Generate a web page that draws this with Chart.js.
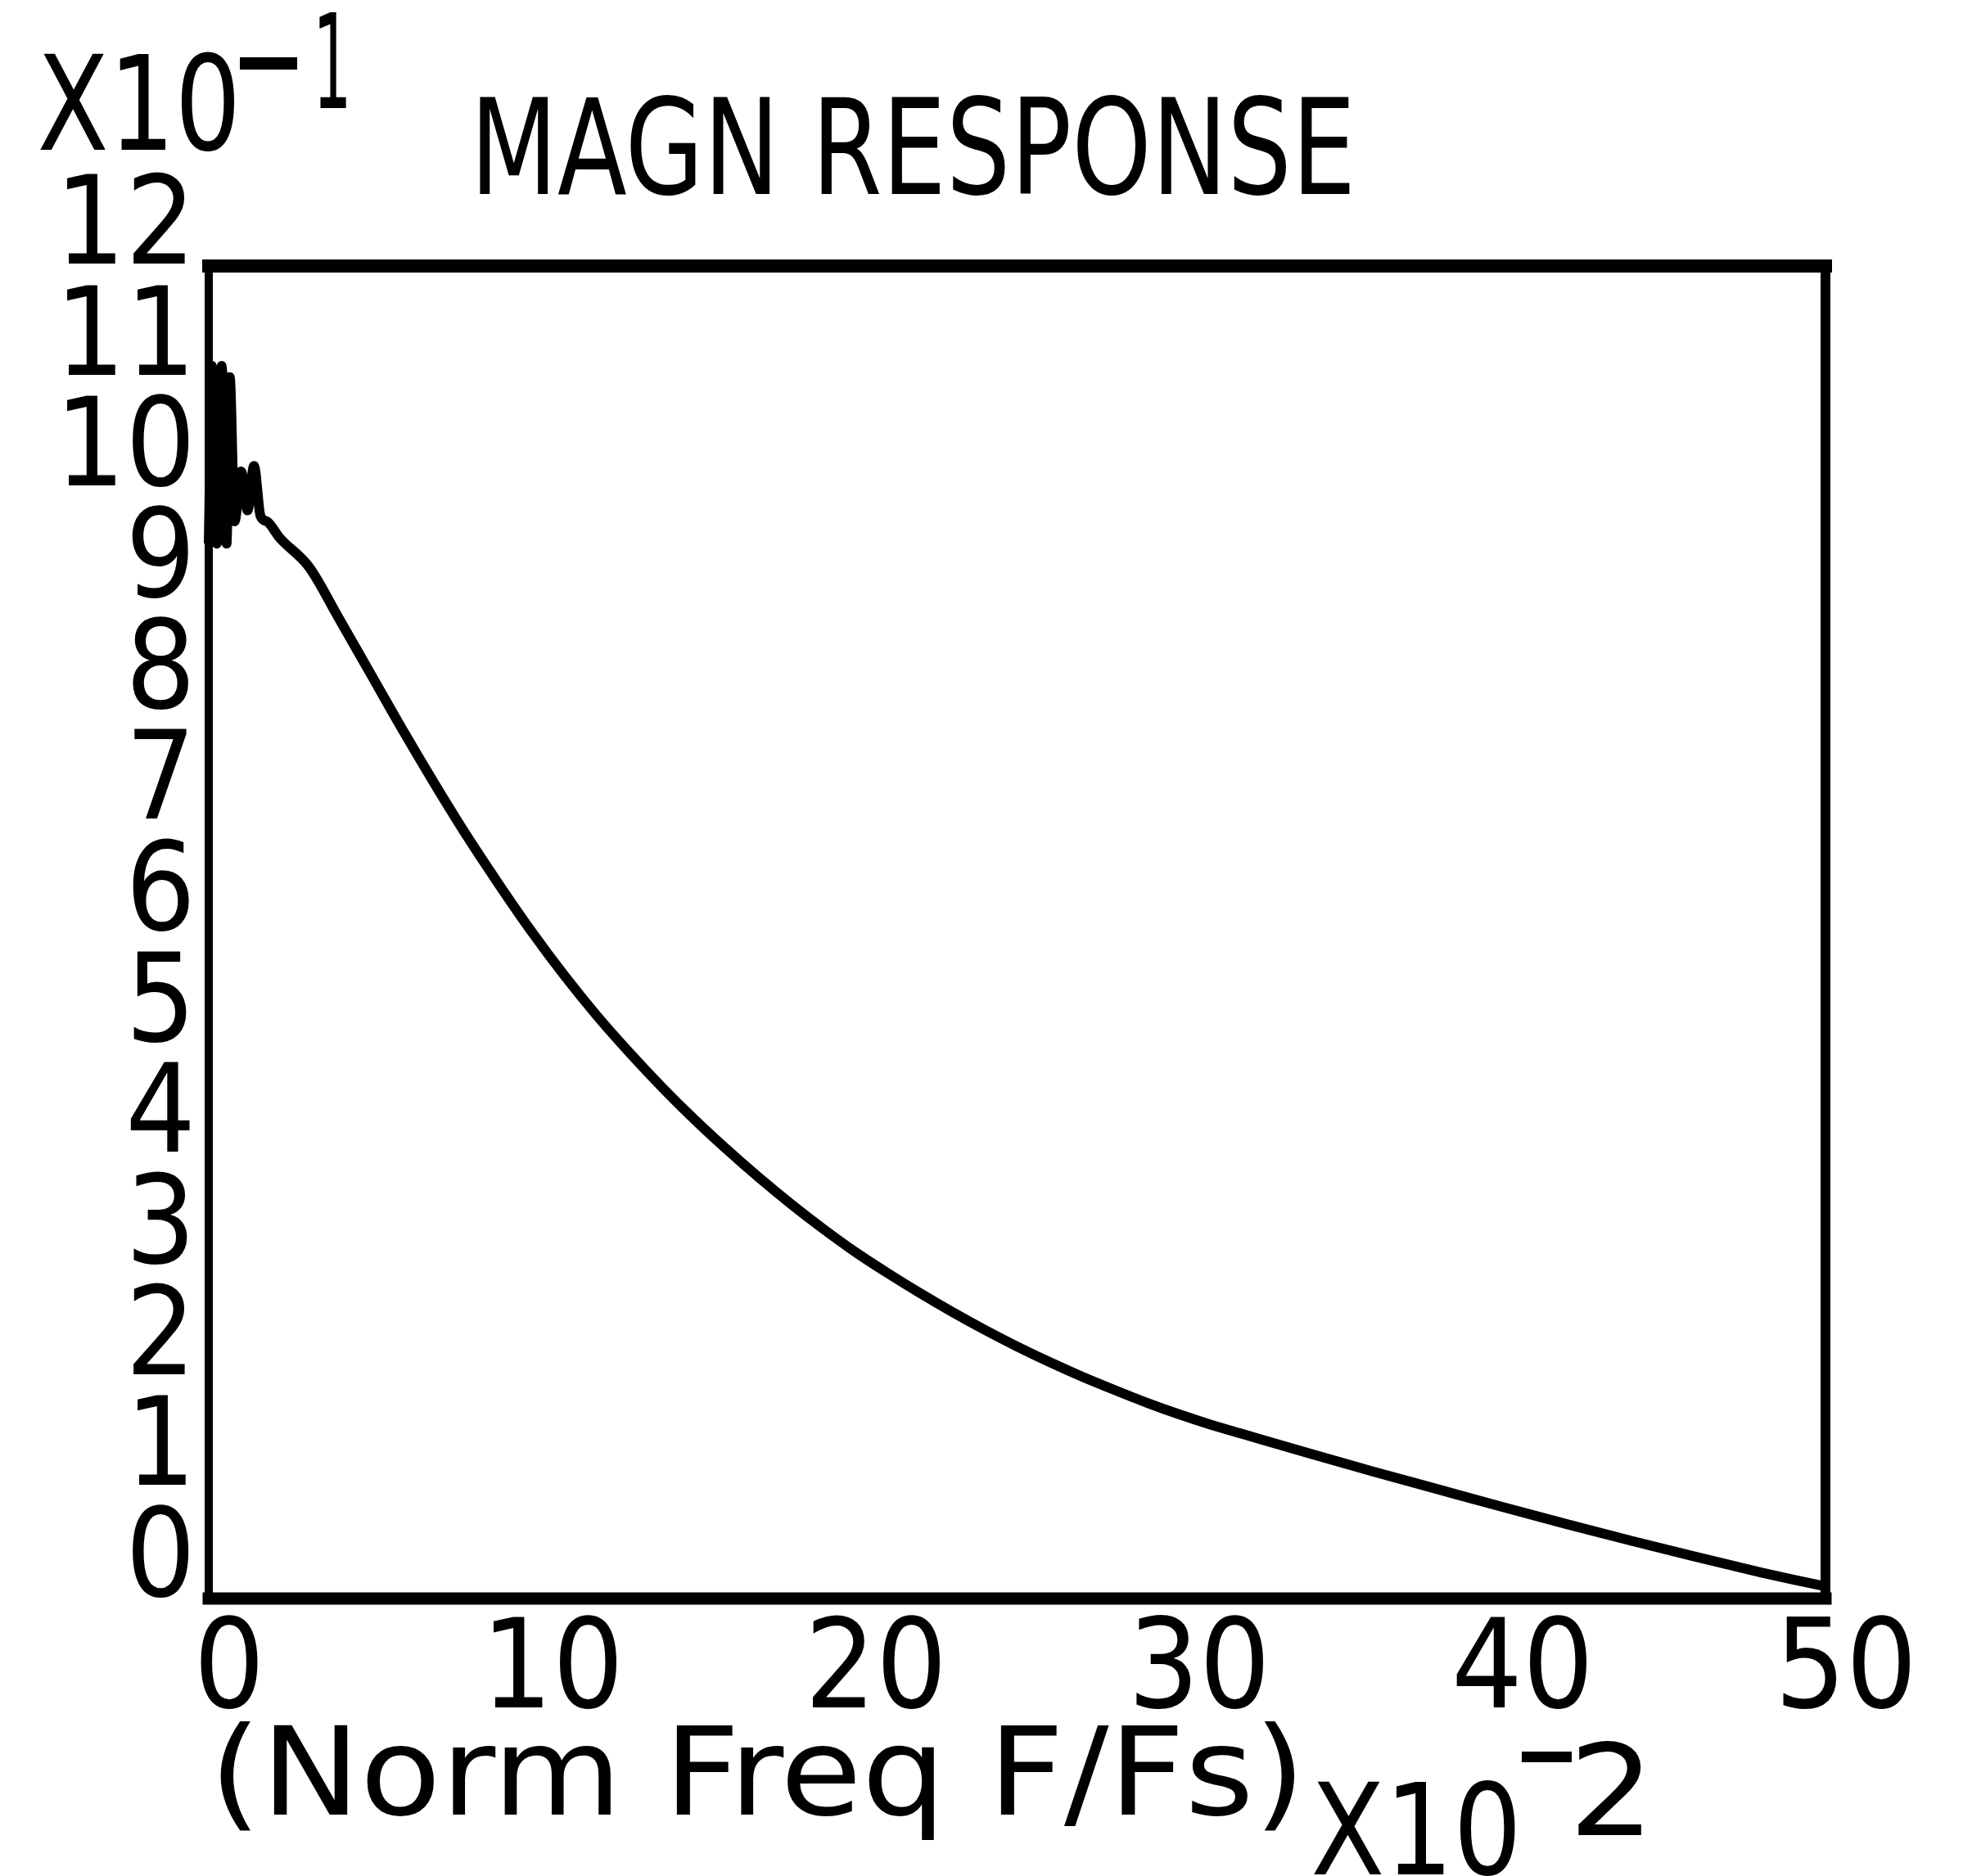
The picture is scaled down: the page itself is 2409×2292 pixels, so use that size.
<!DOCTYPE html>
<html>
<head>
<meta charset="utf-8">
<title>MAGN RESPONSE</title>
<script src="https://cdn.jsdelivr.net/npm/chart.js@4.4.1/dist/chart.umd.min.js"></script>
<style>
  html, body { margin: 0; padding: 0; background: #fff; }
  canvas { display: block; }
</style>
</head>
<body>
<canvas id="myChart" width="2409" height="2292"></canvas>
<script>
// normalized frequency f/fs, in units of x10^-2
const freqs = [0, 0.1, 0.25, 0.4, 0.55, 0.65, 0.8, 1.0, 1.2, 1.4, 1.6, 1.8, 2.2, 3.1,
  4, 5, 6, 7, 8, 9, 10, 11, 12, 13, 14, 15, 16, 17, 18, 19, 20,
  21, 22, 23, 24, 25, 26, 27, 28, 29, 30, 31, 32, 34, 36, 38, 40, 42, 44, 46, 48, 49, 50];
// magnitude, in units of x10^-1
const mags = [9.5, 11.1, 9.5, 11.1, 9.5, 11.0, 9.7, 10.15, 9.8, 10.2, 9.75, 9.7, 9.55, 9.29,
  8.84, 8.33, 7.82, 7.33, 6.86, 6.42, 6.00, 5.61, 5.25, 4.92, 4.61, 4.32, 4.05, 3.795, 3.555, 3.33, 3.12,
  2.93, 2.75, 2.58, 2.42, 2.27, 2.13, 2.00, 1.88, 1.765, 1.66, 1.565, 1.48, 1.31, 1.145, 0.985, 0.825, 0.67,
  0.52, 0.375, 0.235, 0.17, 0.11];
const xTicks = [0, 10, 20, 30, 40, 50];
const yTicks = [0, 1, 2, 3, 4, 5, 6, 7, 8, 9, 10, 11, 12];

const FONT = "'Liberation Sans Narrow', 'DejaVu Sans Condensed', 'Liberation Sans', sans-serif";

// draws text so that its ink spans exactly the given width
function fitText(ctx, text, left, baseline, width) {
  const m = ctx.measureText(text);
  const inkW = m.actualBoundingBoxLeft + m.actualBoundingBoxRight;
  const sx = width / inkW;
  ctx.save();
  ctx.translate(left, baseline);
  ctx.scale(sx, 1);
  ctx.fillText(text, m.actualBoundingBoxLeft, 0);
  ctx.restore();
}

//plotter style frame, sides are not all the same weight
const framePlugin = {
  id: 'frame',
  afterDatasetsDraw(chart) {
    const ctx = chart.ctx;
    const a = chart.chartArea;
    ctx.save();
    ctx.strokeStyle = '#000';
    ctx.lineCap = 'square';
    const side = (x1, y1, x2, y2, w) => {
      ctx.lineWidth = w;
      ctx.beginPath();
      ctx.moveTo(x1, y1);
      ctx.lineTo(x2, y2);
      ctx.stroke();
    };
    side(a.left, a.top, a.right, a.top, 16);
    side(a.left, a.bottom, a.right, a.bottom, 15);
    side(a.left, a.top, a.left, a.bottom, 10);
    side(a.right, a.top, a.right, a.bottom, 12);
    ctx.restore();
  },
  afterDraw(chart) {
    const ctx = chart.ctx;
    ctx.save();
    ctx.fillStyle = '#000';
    ctx.textBaseline = 'alphabetic';
    ctx.textAlign = 'left';
    ctx.font = '163px ' + FONT;
    fitText(ctx, 'MAGN RESPONSE', 586, 237, 1063);
    ctx.font = '160px ' + FONT;
    fitText(ctx, 'X10', 49, 183, 238);
    fitText(ctx, '1', 390, 132, 33);
    ctx.font = '150px ' + FONT;
    fitText(ctx, '(Norm Freq F/Fs)', 269, 2217, 1313);
    ctx.font = '155px ' + FONT;
    fitText(ctx, 'X10', 1605, 2290, 246);
    fitText(ctx, '2', 1928, 2242, 77);
    // superscript minus signs
    ctx.fillRect(293, 70, 70, 15);
    ctx.fillRect(1859, 2140, 61, 13);
    ctx.restore();
  }
};

const points = freqs.map((f, i) => ({ x: f, y: mags[i] }));

const ctx = document.getElementById('myChart').getContext('2d');
const myChart = new Chart(ctx, {
  type: 'line',
  data: {
    datasets: [{
      data: points,
      borderColor: '#000',
      borderWidth: 12,
      pointRadius: 0,
      cubicInterpolationMode: 'monotone',
      fill: false,
      clip: 20
    }]
  },
  options: {
    responsive: false,
    animation: false,
    devicePixelRatio: 1,
    layout: {
      padding: { top: 325, right: 179, left: 0, bottom: 0 }
    },
    scales: {
      x: {
        type: 'linear',
        min: 0,
        max: 50,
        afterFit: (scale) => { scale.height = 339; },
        afterBuildTicks: (scale) => { scale.ticks = xTicks.map(v => ({ value: v })); },
        grid: { display: false, drawTicks: false },
        border: { display: false },
        ticks: {
          autoSkip: false,
          maxRotation: 0,
          color: '#000',
          padding: 2,
          labelOffset: 25,
          font: { family: FONT, size: 152 }
        }
      },
      y: {
        type: 'linear',
        min: 0,
        max: 12,
        afterFit: (scale) => { scale.width = 255; },
        afterBuildTicks: (scale) => { scale.ticks = yTicks.map(v => ({ value: v })); },
        grid: { display: false, drawTicks: false },
        border: { display: false },
        ticks: {
          autoSkip: false,
          color: '#000',
          padding: 16,
          labelOffset: -42,
          font: { family: FONT, size: 150, lineHeight: 1 }
        }
      }
    },
    plugins: {
      legend: { display: false },
      title: { display: false },
      tooltip: { enabled: false }
    }
  },
  plugins: [framePlugin]
});
</script>
</body>
</html>
